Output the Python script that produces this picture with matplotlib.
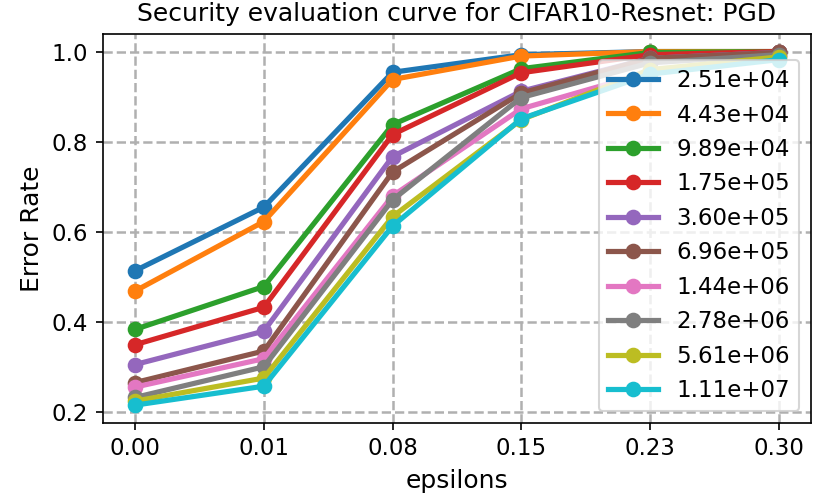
import matplotlib
matplotlib.use("Agg")
import matplotlib.pyplot as plt

epsilons = ["0.00", "0.01", "0.08", "0.15", "0.23", "0.30"]
labels = ["2.51e+04", "4.43e+04", "9.89e+04", "1.75e+05", "3.60e+05",
          "6.96e+05", "1.44e+06", "2.78e+06", "5.61e+06", "1.11e+07"]

err_1 = [0.514, 0.655, 0.954, 0.993, 1.000, 1.000]
err_2 = [0.469, 0.623, 0.938, 0.990, 1.000, 1.000]
err_3 = [0.384, 0.479, 0.838, 0.962, 0.998, 1.000]
err_4 = [0.350, 0.433, 0.816, 0.953, 0.993, 1.000]
err_5 = [0.306, 0.380, 0.767, 0.912, 0.985, 0.998]
err_6 = [0.266, 0.336, 0.733, 0.908, 0.985, 0.998]
err_7 = [0.256, 0.319, 0.680, 0.873, 0.955, 0.990]
err_8 = [0.233, 0.301, 0.671, 0.898, 0.975, 0.993]
err_9 = [0.225, 0.276, 0.634, 0.849, 0.960, 0.988]
err_10 = [0.216, 0.258, 0.613, 0.851, 0.950, 0.982]
errors = [err_1, err_2, err_3, err_4, err_5, err_6, err_7, err_8, err_9, err_10]

fig = plt.figure(figsize=(830/150, 498/150), dpi=150)
ax = fig.add_subplot(111)
fig.subplots_adjust(left=0.124, right=0.977, top=0.932, bottom=0.151)

x = range(len(epsilons))
for e, lab in zip(errors, labels):
    ax.plot(x, e, marker='o', linewidth=2.5, markersize=6.5, label=lab)

ax.set_xticks(list(x))
ax.set_xticklabels(epsilons)
ax.set_yticks([0.2, 0.4, 0.6, 0.8, 1.0])
ax.tick_params(labelsize=11)
ax.set_xlabel("epsilons", fontsize=12)
ax.set_ylabel("Error Rate", fontsize=12)
ax.set_title("Security evaluation curve for CIFAR10-Resnet: PGD", fontsize=12)
ax.grid(linestyle='--', linewidth=1.2)
ax.legend(fontsize=11, loc='lower right', handlelength=2.2)

fig.savefig("out.png", dpi=150)
